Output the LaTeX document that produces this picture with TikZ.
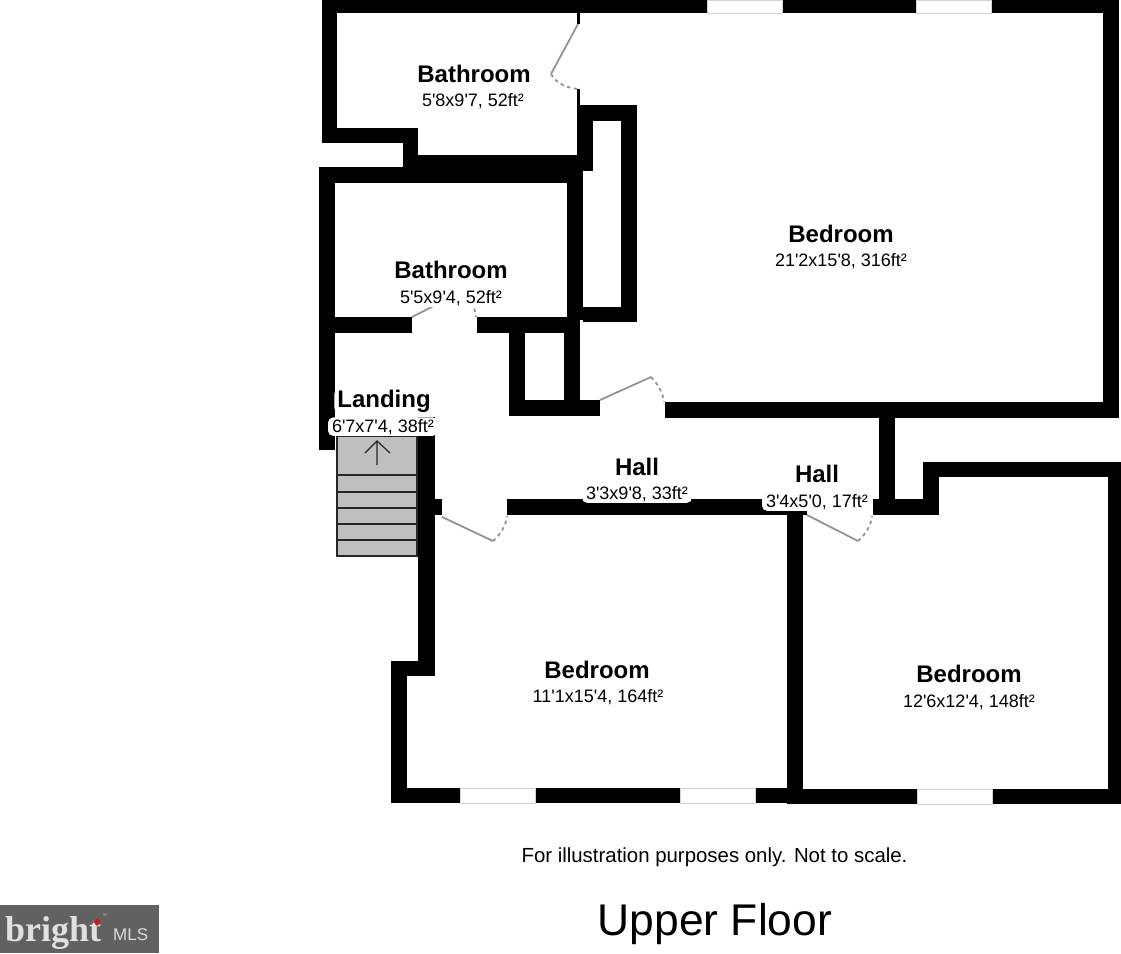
\documentclass[tikz,border=0pt]{standalone}
\usepackage{fontspec}
\setmainfont[Ligatures=TeXOff]{Liberation Sans}
\newfontfamily\logofont{Liberation Serif}
\tikzset{
	wall/.style={fill=black},
	pane/.style={fill=white,draw=gray!35,line width=.6pt},
	leaf/.style={draw=gray!85,line width=1.8pt},
	swing/.style={draw=gray!85,line width=1.8pt,dash pattern=on 3.5pt off 3.5pt},
	flight/.style={fill=gray!50,draw=black!85,line width=1.2pt},
	room/.style={anchor=base,inner sep=0pt,font=\bfseries\fontsize{24}{28}\selectfont},
	size/.style={anchor=base,inner sep=0pt,font=\fontsize{18}{21}\selectfont},
	tag/.style={size,fill=white,rounded corners=5pt,inner xsep=4pt,inner ysep=1.5pt},
}
\begin{document}
\begin{tikzpicture}[x=1pt,y=-1pt]
	\useasboundingbox (0,0) rectangle (1121,953);

	\foreach \xa/\ya/\xb/\yb in {
		322/0/1118/13, 1103/0/1119/418, 322/0/337/143, 322/128/418/143, 403/128/418/182,
		403/155/593/171, 319/167/583/183, 577/13/580/24, 577/89/580/105, 577/105/593/171,
		577/105/637/121, 621/105/637/322, 567/167/583/320, 564/320/580/416, 583/307/637/322,
		319/167/335/450, 319/317/412/333, 477/317/580/333, 509/333/525/416, 509/400/600/416,
		665/402/1119/418, 879/402/895/515, 873/499/939/515, 923/462/939/515, 923/462/1121/477,
		1108/462/1121/804, 391/788/787/803, 787/789/1121/804, 787/515/803/804, 507/499/807/515,
		435/499/442/515, 418/417/435/676, 391/661/434/676, 391/661/407/803}
		\fill[wall] (\xa,\ya) rectangle (\xb,\yb);

	\foreach \xa/\ya/\xb/\yb in {
		707/0/782/13, 916/0/991/13, 460/788/535/803, 680/788/755/803, 917/789/992/804}
		\path[pane] (\xa,\ya) rectangle (\xb,\yb);

	% stairs
	\path[flight] (337,436) rectangle (417,556);
	\foreach \y in {475,492,508,524,540}
		\draw[flight] (337,\y) -- (417,\y);
	\draw[black!85,line width=1.2pt] (377,465) -- (377,441) (365,453) -- (377,441) -- (390,453);

	% doors
	\draw[leaf] (578,24) -- (551,74);
	\draw[swing] (551,74) .. controls (556,83) and (566,88) .. (578,89);
	\draw[leaf] (412,317) -- (463,291);
	\draw[swing] (463,291) .. controls (470,298) and (475,307) .. (476,317);
	\draw[leaf] (600,400) -- (651,377);
	\draw[swing] (651,377) .. controls (658,384) and (663,393) .. (664,402);
	\draw[leaf] (442,517) -- (493,541);
	\draw[swing] (493,541) .. controls (500,535) and (506,526) .. (507,516);
	\draw[leaf] (807,515) -- (858,541);
	\draw[swing] (858,541) .. controls (865,535) and (871,526) .. (872,516);

	\node[room] (bath1) at (474,82) {Bathroom};
	\node[size] (bath1size) at (473,106) {5'8x9'7, 52ft²};
	\node[room] (bath2) at (451,278) {Bathroom};
	\node[tag] (bath2size) at (451,303) {5'5x9'4, 52ft²};
	\node[room,fill=white,inner xsep=3pt,rounded corners=4pt] (land) at (384,407) {Landing};
	\node[tag] (landsize) at (383,432) {6'7x7'4, 38ft²};
	\node[room] (hall1) at (637,475) {Hall};
	\node[tag] (hall1size) at (637,499) {3'3x9'8, 33ft²};
	\node[room] (hall2) at (817,482) {Hall};
	\node[tag] (hall2size) at (817,507) {3'4x5'0, 17ft²};
	\node[room] (bed1) at (841,242) {Bedroom};
	\node[size] (bed1size) at (841,266) {21'2x15'8, 316ft²};
	\node[room] (bed2) at (597,678) {Bedroom};
	\node[size] (bed2size) at (598,702) {11'1x15'4, 164ft²};
	\node[room] (bed3) at (969,682) {Bedroom};
	\node[size] (bed3size) at (969,707) {12'6x12'4, 148ft²};

	\node[anchor=base,inner sep=0pt,font=\fontsize{20.4}{24}\selectfont] (note) at (714.5,862) {For illustration purposes only. Not to scale.};
	\node[anchor=base,inner sep=0pt,font=\fontsize{44.4}{50}\selectfont] (floor) at (715,935) {Upper Floor};

	% logo
	\fill[black!62] (0,905) rectangle (159,953);
	\node[anchor=base west,inner sep=0pt,text=black!12,font=\logofont\bfseries\fontsize{36}{42}\selectfont] (bright) at (5,941) {bright};
	\fill[red!75!black!90] (97,918) -- (100.5,922) -- (97,926) -- (93.5,922) -- cycle;
	\node[anchor=base west,inner sep=0pt,text=black!15,font=\fontsize{17}{20}\selectfont] (mls) at (113,940) {MLS};
	\node[anchor=base west,inner sep=0pt,text=black!20,font=\fontsize{5}{6}\selectfont] (tm) at (102,917) {™};
\end{tikzpicture}
\end{document}
